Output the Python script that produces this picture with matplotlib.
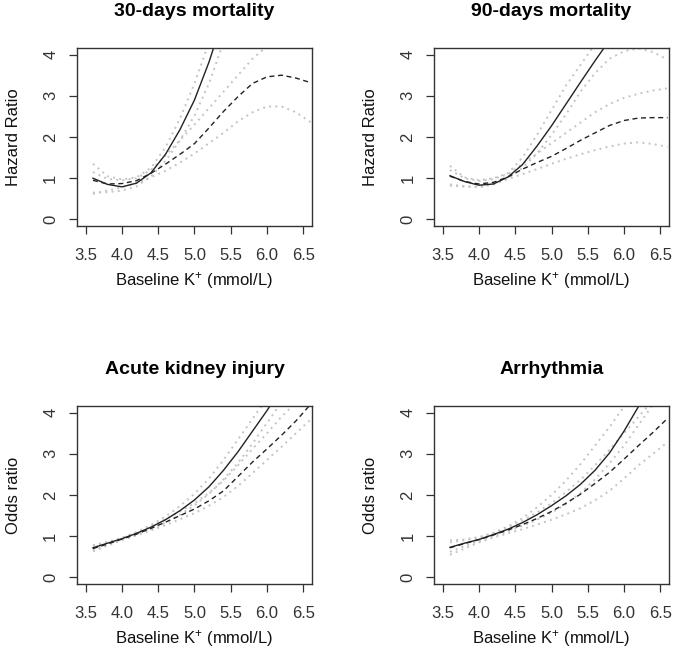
import matplotlib
matplotlib.use('Agg')
import matplotlib.pyplot as plt
import numpy as np

nan = np.nan

# Baseline potassium grid (mmol/L)
k_values = [3.6, 3.8, 4.0, 4.2, 4.4, 4.6, 4.8, 5.0, 5.2, 5.4, 5.6, 5.8, 6.0, 6.2, 6.4, 6.6]

# 30-days mortality
m30_solid = [1.0, 0.85, 0.79, 0.88, 1.13, 1.58, 2.18, 2.9, 3.82, 4.9, nan, nan, nan, nan, nan, nan]
m30_solid_hi = [1.35, 1.05, 0.97, 1.02, 1.25, 1.75, 2.45, 3.3, 4.3, nan, nan, nan, nan, nan, nan, nan]
m30_solid_lo = [0.65, 0.66, 0.7, 0.8, 1.04, 1.42, 1.92, 2.52, 3.3, 4.3, nan, nan, nan, nan, nan, nan]
m30_dash = [0.95, 0.86, 0.87, 0.94, 1.12, 1.34, 1.58, 1.84, 2.22, 2.62, 2.98, 3.3, 3.46, 3.5, 3.43, 3.32]
m30_dash_hi = [1.15, 0.98, 0.95, 1.0, 1.2, 1.55, 1.92, 2.3, 2.7, 3.1, 3.5, 3.9, 4.2, nan, nan, nan]
m30_dash_lo = [0.62, 0.7, 0.78, 0.88, 1.02, 1.18, 1.38, 1.6, 1.85, 2.1, 2.38, 2.6, 2.74, 2.74, 2.6, 2.36]

# 90-days mortality
m90_solid = [1.06, 0.92, 0.83, 0.86, 1.03, 1.33, 1.78, 2.27, 2.8, 3.33, 3.85, 4.35, nan, nan, nan, nan]
m90_solid_hi = [1.3, 1.02, 0.95, 1.0, 1.12, 1.5, 2.05, 2.65, 3.25, 3.75, 4.25, nan, nan, nan, nan, nan]
m90_solid_lo = [0.85, 0.8, 0.78, 0.85, 1.0, 1.25, 1.6, 2.05, 2.55, 3.1, 3.55, 3.9, 4.08, 4.15, 4.06, 3.88]
m90_dash = [1.05, 0.92, 0.86, 0.9, 1.03, 1.22, 1.38, 1.53, 1.72, 1.92, 2.1, 2.28, 2.4, 2.46, 2.47, 2.47]
m90_dash_hi = [1.2, 1.0, 0.93, 0.98, 1.1, 1.35, 1.6, 1.85, 2.1, 2.35, 2.6, 2.8, 2.95, 3.05, 3.13, 3.18]
m90_dash_lo = [0.82, 0.8, 0.79, 0.86, 0.98, 1.1, 1.22, 1.35, 1.47, 1.58, 1.68, 1.77, 1.84, 1.87, 1.83, 1.76]

# Acute kidney injury
aki_solid = [0.72, 0.83, 0.94, 1.07, 1.22, 1.4, 1.62, 1.88, 2.2, 2.6, 3.05, 3.55, 4.05, 4.6, nan, nan]
aki_solid_hi = [0.78, 0.86, 0.96, 1.1, 1.27, 1.48, 1.73, 2.03, 2.4, 2.85, 3.35, 3.85, 4.35, nan, nan, nan]
aki_solid_lo = [0.66, 0.8, 0.92, 1.04, 1.17, 1.33, 1.52, 1.75, 2.03, 2.38, 2.78, 3.25, 3.75, 4.25, nan, nan]
aki_dash = [0.7, 0.81, 0.93, 1.05, 1.19, 1.34, 1.5, 1.66, 1.86, 2.1, 2.45, 2.8, 3.12, 3.45, 3.8, 4.2]
aki_dash_hi = [0.77, 0.85, 0.96, 1.08, 1.24, 1.41, 1.6, 1.8, 2.05, 2.35, 2.72, 3.12, 3.5, 3.9, 4.25, nan]
aki_dash_lo = [0.63, 0.77, 0.9, 1.02, 1.14, 1.27, 1.41, 1.56, 1.74, 1.95, 2.22, 2.53, 2.85, 3.17, 3.5, 3.83]

# Arrhythmia
arr_solid = [0.73, 0.83, 0.92, 1.04, 1.17, 1.33, 1.52, 1.74, 1.98, 2.26, 2.6, 3.02, 3.55, 4.15, 4.85, nan]
arr_solid_hi = [0.85, 0.9, 0.96, 1.08, 1.24, 1.44, 1.7, 2.0, 2.35, 2.75, 3.2, 3.65, 4.15, 4.7, nan, nan]
arr_solid_lo = [0.62, 0.76, 0.88, 1.0, 1.12, 1.25, 1.4, 1.57, 1.78, 2.05, 2.38, 2.77, 3.2, 3.7, 4.2, nan]
arr_dash = [0.72, 0.82, 0.92, 1.03, 1.15, 1.28, 1.43, 1.6, 1.8, 2.02, 2.28, 2.55, 2.87, 3.2, 3.52, 3.86]
arr_dash_hi = [0.9, 0.92, 0.98, 1.08, 1.22, 1.38, 1.58, 1.8, 2.07, 2.37, 2.72, 3.1, 3.5, 3.9, 4.3, nan]
arr_dash_lo = [0.55, 0.7, 0.85, 0.97, 1.07, 1.17, 1.28, 1.4, 1.53, 1.68, 1.87, 2.1, 2.4, 2.72, 3.0, 3.28]

titles = ["30-days mortality", "90-days mortality", "Acute kidney injury", "Arrhythmia"]
ylabels = ["Hazard Ratio", "Hazard Ratio", "Odds ratio", "Odds ratio"]
panels = [
    (m30_solid, m30_solid_hi, m30_solid_lo, m30_dash, m30_dash_hi, m30_dash_lo),
    (m90_solid, m90_solid_hi, m90_solid_lo, m90_dash, m90_dash_hi, m90_dash_lo),
    (aki_solid, aki_solid_hi, aki_solid_lo, aki_dash, aki_dash_hi, aki_dash_lo),
    (arr_solid, arr_solid_hi, arr_solid_lo, arr_dash, arr_dash_hi, arr_dash_lo),
]
x_ticks = [3.5, 4.0, 4.5, 5.0, 5.5, 6.0, 6.5]
y_ticks = [0, 1, 2, 3, 4]

plt.rcParams['font.family'] = ['Liberation Sans', 'DejaVu Sans']
plt.rcParams['mathtext.fontset'] = 'custom'
plt.rcParams['mathtext.rm'] = 'Liberation Sans'
plt.rcParams['mathtext.it'] = 'Liberation Sans:italic'
plt.rcParams['mathtext.bf'] = 'Liberation Sans:bold'

fig = plt.figure(figsize=(6.75, 6.5), dpi=100)

# axes boxes in pixels: left, top
boxes = [(77, 48), (434, 48), (77, 406), (434, 406)]
W, H = 235, 178

dotted = (0, (1.0, 2.2))
grey = '#c4c4c4'

for i, (left, top) in enumerate(boxes):
    ax = fig.add_axes([left / 675, 1 - (top + H) / 650, W / 675, H / 650])
    solid, solid_hi, solid_lo, dash, dash_hi, dash_lo = panels[i]
    for band in (solid_hi, solid_lo, dash_hi, dash_lo):
        ax.plot(k_values, band, color=grey, lw=1.4, linestyle=dotted)
    ax.plot(k_values, dash, color='#222222', lw=1.0, linestyle=(0, (3.6, 2.6)))
    ax.plot(k_values, solid, color='#222222', lw=1.0)

    ax.set_xlim(3.38, 6.62)
    ax.set_ylim(-0.16, 4.16)
    ax.set_xticks(x_ticks)
    ax.set_xticklabels(["%.1f" % v for v in x_ticks])
    ax.set_yticks(y_ticks)
    ax.set_yticklabels([str(v) for v in y_ticks], rotation=90, va='center')
    ax.tick_params(axis='both', direction='out', length=5.5, width=0.9,
                   color='#333333', labelcolor='#333333', labelsize=12)
    ax.tick_params(axis='x', pad=10.5)
    ax.tick_params(axis='y', pad=8)
    for s in ax.spines.values():
        s.set_color('#333333')
        s.set_linewidth(1.0)

    ax.set_title(titles[i], fontsize=14, fontweight='bold', pad=23)
    ax.set_xlabel(r'Baseline K$^{+}$ (mmol/L)', fontsize=12, labelpad=5, color='#111111')
    ax.set_ylabel(ylabels[i], fontsize=12, labelpad=16, color='#111111')

fig.savefig('out.png', dpi=100)
